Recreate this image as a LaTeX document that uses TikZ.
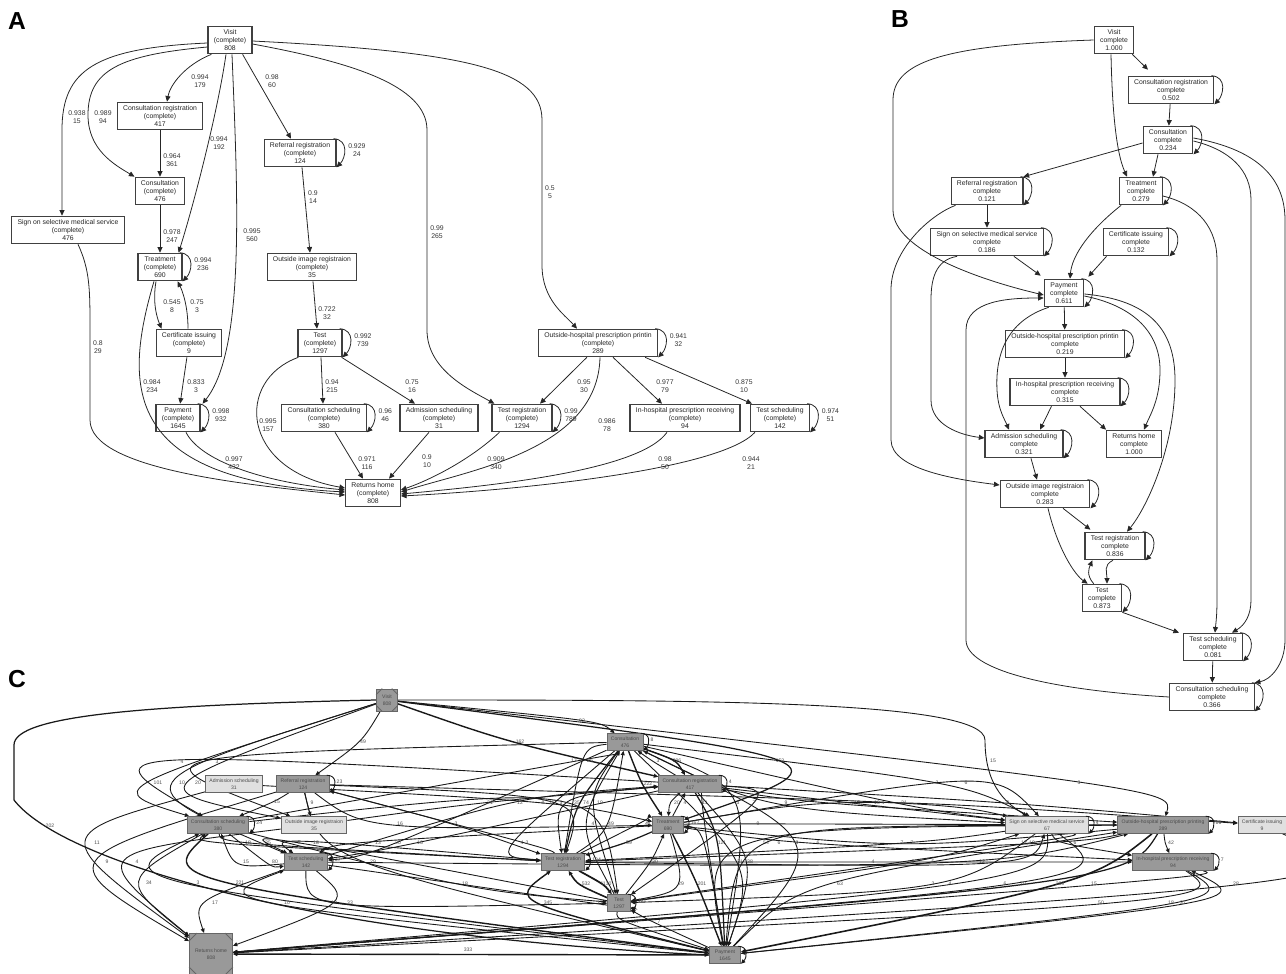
\documentclass[tikz,border=0pt]{standalone}
\usepackage{fontspec}
\setmainfont{Liberation Sans}
\usetikzlibrary{arrows.meta,calc,backgrounds}

\newcommand{\fsA}{\fontsize{3.9}{4.4}\selectfont}
\newcommand{\fsC}{\fontsize{2.9}{3.9}\selectfont}
% loop on the right side of a box
\newcommand{\selfloop}[2]{\draw[edgeA] ($(#1.north east)+(-3,0)$) .. controls +(16,1) and +(9,-9) .. (#1.south east)
  node[labA,anchor=west,midway,xshift=2pt] {#2};}
\newcommand{\selfloopC}[2]{\draw[edgeC] ($(#1.north east)+(-3,0)$) .. controls +(11,0) and +(6,-6) .. (#1.south east)
  node[labC,anchor=west,midway,xshift=1pt] {#2};}
% edge of panel C, bent through a point just left of its label
\newcommand{\cedge}[5][]{\draw[edgeC,#1] (#2) .. controls ($1.3333*(#3)-0.16667*(#2)-0.16667*(#4)+(-7,0)$) .. (#4)
  node[labC] at (#3) {#5};}

\begin{document}
\begin{tikzpicture}[x=0.02cm,y=-0.02cm,
  boxA/.style={draw=black!75, line width=0.7pt, fill=white, align=center, font=\fsA, text=black!85,
    inner xsep=3.3pt, inner ysep=1pt, minimum height=15.6pt},
  edgeA/.style={-{Triangle[length=3.2pt,width=2.9pt]}, line width=0.45pt, black!85},
  labA/.style={font=\fsA, align=center, inner sep=0pt, text=black!80},
  boxC/.style={draw=black!60, line width=0.5pt, align=center, font=\fsC, text=black!70,
    inner xsep=2.2pt, inner ysep=0.5pt, minimum height=9.5pt},
  dark/.style={boxC, fill=black!40},
  pale/.style={boxC, fill=black!12},
  edgeC/.style={-{Triangle[length=2.5pt,width=2.2pt]}, line width=0.5pt, black!90},
  labC/.style={font=\fsC, inner sep=0pt, text=black!70},
  panel/.style={font=\fontsize{14}{14}\selectfont\bfseries}]
\useasboundingbox (0,0) rectangle (1286,974);

\node[panel] (pA) at (17,21) {A};
\node[panel] (pB) at (900,19) {B};
\node[panel] (pC) at (17,679) {C};

% ---------------- panel A ----------------
\node[boxA] (aVisit) at (230,40) {Visit\\(complete)\\808};
\node[boxA] (aCR) at (160,116) {Consultation registration\\(complete)\\417};
\node[boxA] (aRef) at (300,153) {Referral registration\\(complete)\\124};
\node[boxA] (aCons) at (160,191) {Consultation\\(complete)\\476};
\node[boxA] (aSign) at (68,230) {Sign on selective medical service\\(complete)\\476};
\node[boxA] (aTreat) at (160,267) {Treatment\\(complete)\\690};
\node[boxA] (aImg) at (312,267) {Outside image registraion\\(complete)\\35};
\node[boxA] (aCert) at (189,343) {Certificate issuing\\(complete)\\9};
\node[boxA] (aTest) at (320,343) {Test\\(complete)\\1297};
\node[boxA] (aOHP) at (598,343) {Outside-hospital prescription printin\\(complete)\\289};
\node[boxA] (aPay) at (178,418) {Payment\\(complete)\\1645};
\node[boxA] (aCS) at (324,418) {Consultation scheduling\\(complete)\\380};
\node[boxA] (aAdm) at (439,418) {Admission scheduling\\(complete)\\31};
\node[boxA] (aTR) at (522,418) {Test registration\\(complete)\\1294};
\node[boxA] (aIH) at (685,418) {In-hospital prescription receiving\\(complete)\\94};
\node[boxA] (aTS) at (780,418) {Test scheduling\\(complete)\\142};
\node[boxA] (aRet) at (373,493) {Returns home\\(complete)\\808};

\draw[edgeA] ($(aVisit.west)+(0,3)$) .. controls (95,48) and (62,70) .. (62,130) -- ($(aSign.north)+(-6,0)$)
  node[labA] at (77,117) {0.938\\15};
\draw[edgeA] ($(aVisit.west)+(0,7)$) .. controls (120,55) and (88,70) .. (88,115)
  .. controls (88,150) and (115,165) .. (aCons.north west)
  node[labA] at (103,117) {0.989\\94};
\draw[edgeA] ($(aVisit.south west)+(4,0)$) .. controls (185,65) and (170,85) .. ($(aCR.north)+(7,0)$)
  node[labA] at (200,81) {0.994\\179};
\draw[edgeA] ($(aVisit.south)+(-4,0)$) .. controls (218,110) and (195,200) .. ($(aTreat.north east)+(-4,0)$)
  node[labA] at (219,143) {0.994\\192};
\draw[edgeA] ($(aVisit.south)+(2,0)$) .. controls (238,200) and (245,350) .. ($(aPay.north east)+(2,0)$)
  node[labA] at (252,235) {0.995\\560};
\draw[edgeA] ($(aVisit.south east)+(-10,0)$) -- ($(aRef.north)+(-9,0)$)
  node[labA] at (272,81) {0.98\\60};
\draw[edgeA] ($(aVisit.east)+(0,4)$) .. controls (350,62) and (427,85) .. (427,130) -- (427,330)
  .. controls (427,370) and (470,390) .. ($(aTR.north west)+(3,0)$)
  node[labA] at (437,232) {0.99\\265};
\draw[edgeA] ($(aVisit.east)+(0,1)$) .. controls (470,52) and (542,70) .. (542,120) -- (542,265)
  .. controls (542,300) and (565,315) .. ($(aOHP.north)+(-21,0)$)
  node[labA] at (550,192) {0.5\\5};
\draw[edgeA] (aCR) -- (aCons) node[labA] at (172,160) {0.964\\361};
\draw[edgeA] (aCons) -- (aTreat) node[labA] at (172,236) {0.978\\247};
\draw[edgeA] ($(aRef.south)+(2,0)$) -- ($(aImg.north)+(-2,0)$) node[labA] at (313,197) {0.9\\14};
\draw[edgeA] ($(aTreat.south)+(-4,0)$) .. controls (152,305) and (158,320) .. ($(aCert.north west)+(6,0)$)
  node[labA] at (172,306) {0.545\\8};
\draw[edgeA] ($(aCert.north)+(-1,0)$) .. controls (188,305) and (182,290) .. ($(aTreat.south east)+(-5,0)$)
  node[labA] at (197,306) {0.75\\3};
\draw[edgeA] (aCert) -- (aPay) node[labA] at (196,386) {0.833\\3};
\draw[edgeA] ($(aTreat.south)+(-6,0)$) .. controls (122,390) and (125,480) .. ($(aRet.west)+(0,-1)$)
  node[labA] at (152,386) {0.984\\234};
\draw[edgeA] ($(aSign.south)+(10,0)$) .. controls (90,270) and (90,290) .. (90,330) -- (90,420)
  .. controls (90,470) and (250,485) .. ($(aRet.west)+(0,2)$)
  node[labA] at (98,347) {0.8\\29};
\draw[edgeA] ($(aPay.south)+(8,0)$) .. controls (200,460) and (260,482) .. ($(aRet.west)+(0,-3)$)
  node[labA] at (234,463) {0.997\\432};
\draw[edgeA] ($(aImg.south)+(1,0)$) -- ($(aTest.north)+(-3,0)$) node[labA] at (327,313) {0.722\\32};
\draw[edgeA] ($(aTest.south)+(1,0)$) -- ($(aCS.north)+(-1,0)$) node[labA] at (332,386) {0.94\\215};
\draw[edgeA] ($(aTest.south east)+(-1,0)$) -- ($(aAdm.north)+(-24,0)$) node[labA] at (412,386) {0.75\\16};
\draw[edgeA] ($(aTest.south west)+(1,0)$) .. controls (235,380) and (240,470) .. ($(aRet.west)+(0,-5)$)
  node[labA] at (268,425) {0.995\\157};
\draw[edgeA] ($(aCS.south)+(11,0)$) -- ($(aRet.north)+(-10,0)$) node[labA] at (367,463) {0.971\\116};
\draw[edgeA] ($(aAdm.south)+(-10,0)$) -- ($(aRet.north)+(16,0)$) node[labA] at (427,461) {0.9\\10};
\draw[edgeA] ($(aTR.south west)+(8,0)$) .. controls (470,460) and (430,480) .. ($(aRet.east)+(0,-3)$)
  node[labA] at (496,463) {0.909\\340};
\draw[edgeA] ($(aOHP.south west)+(49,0)$) -- ($(aTR.north)+(18,0)$) node[labA] at (584,386) {0.95\\30};
\draw[edgeA] ($(aOHP.south)+(2,0)$) .. controls (598,450) and (470,470) .. ($(aRet.east)+(0,-1)$)
  node[labA] at (607,425) {0.986\\78};
\draw[edgeA] ($(aOHP.south)+(15,0)$) -- ($(aIH.north)+(-23,0)$) node[labA] at (665,386) {0.977\\79};
\draw[edgeA] ($(aOHP.south east)+(-13,0)$) -- ($(aTS.north)+(-28,0)$) node[labA] at (744,386) {0.875\\10};
\draw[edgeA] ($(aIH.south)+(-18,0)$) .. controls (640,470) and (500,485) .. ($(aRet.east)+(0,1)$)
  node[labA] at (665,463) {0.98\\50};
\draw[edgeA] ($(aTS.south west)+(5,0)$) .. controls (720,470) and (520,490) .. ($(aRet.east)+(0,3)$)
  node[labA] at (751,463) {0.944\\21};
\selfloop{aRef}{0.929\\24}
\selfloop{aTreat}{0.994\\236}
\selfloop{aTest}{0.992\\739}
\selfloop{aPay}{0.998\\932}
\selfloop{aCS}{0.96\\46}
\selfloop{aTR}{0.99\\789}
\selfloop{aOHP}{0.941\\32}
\selfloop{aTS}{0.974\\51}

% ---------------- panel B ----------------
\node[boxA] (bVisit) at (1114,40) {Visit\\complete\\1.000};
\node[boxA] (bCR) at (1171,90) {Consultation registration\\complete\\0.502};
\node[boxA] (bCons) at (1168,140) {Consultation\\complete\\0.234};
\node[boxA] (bRef) at (987,191) {Referral registration\\complete\\0.121};
\node[boxA] (bTreat) at (1141,191) {Treatment\\complete\\0.279};
\node[boxA] (bSign) at (987,242) {Sign on selective medical service\\complete\\0.186};
\node[boxA] (bCert) at (1136,242) {Certificate issuing\\complete\\0.132};
\node[boxA] (bPay) at (1064,293) {Payment\\complete\\0.611};
\node[boxA] (bOHP) at (1065,344) {Outside-hospital prescription printin\\complete\\0.219};
\node[boxA] (bIH) at (1065,392) {In-hospital prescription receiving\\complete\\0.315};
\node[boxA] (bAdm) at (1024,444) {Admission scheduling\\complete\\0.321};
\node[boxA] (bRet) at (1134,444) {Returns home\\complete\\1.000};
\node[boxA] (bImg) at (1045,494) {Outside image registraion\\complete\\0.283};
\node[boxA] (bTR) at (1115,546) {Test registration\\complete\\0.836};
\node[boxA] (bTest) at (1102,598) {Test\\complete\\0.873};
\node[boxA] (bTS) at (1213,647) {Test scheduling\\complete\\0.081};
\node[boxA] (bCSch) at (1212,697) {Consultation scheduling\\complete\\0.366};

\draw[edgeA] ($(bVisit.south east)+(-2,0)$) -- ($(bCR.north)+(-23,-6)$);
\draw[edgeA] ($(bVisit.south)+(-3,0)$) .. controls (1112,100) and (1115,150) .. ($(bTreat.north)+(-14,0)$);
\draw[edgeA] (bVisit.west) .. controls (950,45) and (893,60) .. (893,100) -- (893,210)
  .. controls (893,250) and (980,280) .. ($(bPay.west)+(0,2)$);
\draw[edgeA] (bCR) -- (bCons);
\draw[edgeA] ($(bCons.west)+(0,3)$) -- (bRef.north east);
\draw[edgeA] ($(bCons.south)+(-10,0)$) -- ($(bTreat.north)+(12,0)$);
\draw[edgeA] ($(bCons.east)+(0,1)$) .. controls (1230,150) and (1251,170) .. (1251,200) -- (1251,600)
  .. controls (1251,615) and (1245,625) .. ($(bTS.north)+(19,0)$);
\draw[edgeA] ($(bCons.east)+(0,-2)$) .. controls (1260,150) and (1285,180) .. (1285,220) -- (1285,640)
  .. controls (1285,665) and (1270,680) .. (bCSch.north east);
\draw[edgeA] ($(bTreat.east)+(0,5)$) .. controls (1200,205) and (1217,230) .. (1217,260) -- (1217,600)
  .. controls (1217,615) and (1216,622) .. ($(bTS.north)+(2,0)$);
\draw[edgeA] ($(bTreat.south west)+(2,0)$) .. controls (1090,230) and (1072,255) .. ($(bPay.north)+(6,0)$);
\draw[edgeA] (bRef) -- (bSign);
\draw[edgeA] ($(bRef.south west)+(5,0)$) .. controls (930,215) and (891,250) .. (891,290) -- (891,440)
  .. controls (891,470) and (960,480) .. ($(bImg.west)+(0,-9)$);
\draw[edgeA] ($(bSign.south east)+(-30,0)$) -- ($(bPay.north west)+(-3,-3)$);
\draw[edgeA] ($(bSign.south west)+(27,0)$) .. controls (935,260) and (931,280) .. (931,300) -- (931,400)
  .. controls (931,425) and (960,435) .. ($(bAdm.west)+(0,-6)$);
\draw[edgeA] ($(bCert.south west)+(4,0)$) -- ($(bPay.north east)+(4,-2)$);
\draw[edgeA] (bPay) -- (bOHP);
\draw[edgeA] ($(bPay.south west)+(5,0)$) .. controls (1010,320) and (995,350) .. (997,390)
  .. controls (998,410) and (1005,420) .. ($(bAdm.north)+(-15,0)$);
\draw[edgeA] ($(bPay.east)+(0,3)$) .. controls (1130,305) and (1160,330) .. (1160,370)
  .. controls (1160,400) and (1150,415) .. ($(bRet.north)+(10,0)$);
\draw[edgeA] ($(bPay.east)+(0,1)$) .. controls (1150,300) and (1175,330) .. (1175,380)
  .. controls (1175,450) and (1145,510) .. ($(bTR.north)+(12,0)$);
\draw[edgeA] (bCSch.west) .. controls (1050,690) and (966,670) .. (966,640) -- (966,330)
  .. controls (966,300) and (1010,298) .. ($(bPay.west)+(0,5)$);
\draw[edgeA] (bOHP) -- (bIH);
\draw[edgeA] ($(bIH.south west)+(42,0)$) -- ($(bAdm.north)+(16,0)$);
\draw[edgeA] ($(bIH.south)+(15,0)$) -- (bRet.north west);
\draw[edgeA] ($(bAdm.south)+(7,0)$) -- ($(bImg.north)+(-8,0)$);
\draw[edgeA] ($(bImg.south)+(18,0)$) -- ($(bTR.north west)+(6,-2)$);
\draw[edgeA] ($(bImg.south)+(3,0)$) .. controls (1058,550) and (1075,575) .. ($(bTest.north west)+(6,0)$);
\draw[edgeA] ($(bTest.north west)+(12,0)$) .. controls (1086,575) and (1089,568) .. ($(bTR.south west)+(8,0)$);
\draw[edgeA] ($(bTR.south)+(-2,0)$) .. controls (1103,565) and (1107,572) .. ($(bTest.north)+(5,0)$);
\draw[edgeA] (bTest.south east) -- ($(bTS.north west)+(-4,0)$);
\draw[edgeA] (bTS) -- (bCSch);
\foreach \n in {bCR,bCons,bRef,bTreat,bSign,bCert,bPay,bOHP,bIH,bAdm,bImg,bTR,bTest,bTS,bCSch}
  {\selfloop{\n}{}}

% ---------------- panel C ----------------
\node[dark, minimum width=0.42cm, minimum height=0.44cm] (cVisit) at (387,700) {Visit\\808};
\node[pale] (cAdm) at (234,784) {Admission scheduling\\31};
\node[dark] (cRef) at (303,784) {Referral registration\\124};
\node[dark] (cCS) at (218,825) {Consultation scheduling\\380};
\node[pale] (cImg) at (314,825) {Outside image registraion\\35};
\node[dark] (cTS) at (306,862) {Test scheduling\\142};
\node[dark, minimum width=0.86cm, minimum height=0.82cm] (cRet) at (211,954) {Returns home\\808};
\node[dark] (cCons) at (625,742) {Consultation\\476};
\node[dark] (cCR) at (690,784) {Consultation registration\\417};
\node[dark] (cTreat) at (668,825) {Treatment\\690};
\node[dark] (cTR) at (563,862) {Test registration\\1294};
\node[dark, minimum width=0.46cm] (cTest) at (619,903) {Test\\1297};
\node[dark, minimum width=0.62cm] (cPay) at (725,955) {Payment\\1645};
\node[pale] (cSign) at (1047,825) {Sign on selective medical service\\67};
\node[dark] (cOHP) at (1163,825) {Outside-hospital prescription printing\\289};
\node[pale] (cCert) at (1262,825) {Certificate issuing\\9};
\node[dark] (cIH) at (1173,862) {In-hospital prescription receiving\\94};
\foreach \n/\d in {cVisit/3.5pt,cRet/4.5pt}{
  \draw[black!60, line width=0.5pt] ([yshift=-\d]\n.north west) -- ([xshift=\d]\n.north west)
    ([xshift=-\d]\n.north east) -- ([yshift=-\d]\n.north east)
    ([yshift=\d]\n.south west) -- ([xshift=\d]\n.south west)
    ([xshift=-\d]\n.south east) -- ([yshift=\d]\n.south east);
}

\begin{pgfonlayer}{background}
\draw[edgeC, line width=0.7pt] (cVisit.west) .. controls (150,705) and (14,715) .. (14,745) -- (14,800)
  .. controls (60,860) and (300,935) .. (cPay.west) node[labC] at (50,826) {202};
\draw[edgeC] (cVisit.east) .. controls (700,700) and (985,700) .. (985,740)
  .. controls (985,790) and (1010,805) .. ($(cSign.north)+(-20,0)$) node[labC] at (993,761) {15};
\draw[edgeC, line width=0.8pt] (cPay) -- (cRet) node[labC] at (468,950) {333};
\cedge{cVisit}{363,742}{cRef}{49}
\cedge{cVisit}{158,783}{cCS}{101}
\cedge{cVisit}{182,783}{cTS}{10}
\cedge{cVisit}{198,783}{cImg}{20}
\cedge{cCR}{182,762}{cCS}{4}
\cedge{cCons}{217,762}{cImg}{3}
\cedge{cRef}{277,802}{cCS}{15}
\cedge{cRef}{312,803}{cImg}{9}
\cedge{cAdm}{97,843}{cRet}{11}
\cedge{cRef}{107,862}{cRet}{9}
\cedge{cImg}{137,862}{cRet}{4}
\cedge{cCS}{149,883}{cRet}{34}
\cedge{cPay}{198,883}{cCS}{3}
\cedge[line width=0.8pt]{cCS}{240,883}{cPay}{221}
\cedge{cTS}{215,903}{cRet}{17}
\cedge{cPay}{287,903}{cTS}{10}
\cedge{cTS}{334,903}{cRet}{10}
\cedge{cTS}{350,903}{cTest}{33}
\cedge{cTS}{246,862}{cCS}{15}
\cedge{cCS}{275,862}{cTS}{80}
\cedge{cTR}{248,843}{cCS}{18}
\cedge{cCS}{268,843}{cTR}{35}
\cedge{cTest}{299,843}{cTS}{5}
\cedge{cTR}{316,843}{cTS}{18}
\cedge{cRef}{373,862}{cPay}{29}
\cedge{cRef}{400,824}{cTreat}{16}
\cedge{cTreat}{378,843}{cTS}{13}
\cedge{cCons}{398,843}{cTS}{20}
\cedge{cCR}{420,843}{cTS}{16}
\cedge{cVisit}{582,721}{cCons}{92}
\cedge[line width=0.8pt]{cVisit}{520,742}{cCR}{162}
\cedge{cCS}{574,761}{cCons}{17}
\cedge{cCons}{590,761}{cTR}{26}
\cedge{cCR}{658,761}{cCons}{3}
\cedge[line width=0.8pt]{cCons}{677,761}{cCR}{296}
\cedge[line width=0.7pt]{cVisit}{780,761}{cTreat}{153}
\cedge[line width=0.8pt]{cCons}{648,784}{cTreat}{222}
\cedge{cImg}{490,803}{cCR}{21}
\cedge{cTS}{520,803}{cCR}{12}
\cedge{cAdm}{543,803}{cTreat}{8}
\cedge{cRef}{552,803}{cTR}{15}
\cedge{cCS}{561,803}{cTest}{3}
\cedge{cCR}{577,803}{cTR}{35}
\cedge[line width=0.7pt]{cCons}{586,803}{cTR}{74}
\cedge{cCons}{600,803}{cTest}{19}
\cedge{cCR}{677,803}{cTreat}{20}
\cedge{cTreat}{685,803}{cCR}{4}
\cedge{cCR}{705,803}{cPay}{11}
\cedge{cCons}{738,803}{cPay}{3}
\cedge{cCR}{754,803}{cTest}{7}
\cedge{cCons}{786,803}{cSign}{9}
\cedge{cCR}{839,803}{cOHP}{9}
\cedge{cRef}{456,824}{cTR}{3}
\cedge{cTest}{593,824}{cCons}{4}
\cedge{cTR}{611,824}{cCons}{49}
\cedge{cTR}{648,824}{cTreat}{41}
\cedge{cTreat}{758,824}{cOHP}{9}
\cedge{cCons}{522,843}{cTR}{4}
\cedge{cTR}{527,843}{cRef}{3}
\cedge[line width=0.7pt]{cTreat}{629,843}{cTR}{59}
\cedge{cTreat}{707,843}{cPay}{4}
\cedge[line width=0.7pt]{cCR}{722,843}{cPay}{121}
\cedge{cOHP}{766,843}{cPay}{54}
\cedge{cSign}{779,843}{cPay}{6}
\cedge{cPay}{797,843}{cCons}{3}
\cedge{cTreat}{818,843}{cIH}{6}
\cedge{cTest}{655,862}{cTreat}{30}
\cedge{cCons}{740,862}{cPay}{31}
\cedge{cCR}{750,862}{cPay}{38}
\cedge{cCS}{465,884}{cTest}{18}
\cedge[line width=0.9pt]{cTest}{586,884}{cTR}{532}
\cedge[line width=1pt]{cTR}{606,884}{cTest}{1130}
\cedge{cTreat}{681,884}{cTest}{29}
\cedge[line width=0.8pt]{cTreat}{702,884}{cPay}{201}
\cedge{cPay}{840,884}{cOHP}{63}
\cedge[line width=0.8pt]{cPay}{548,903}{cTR}{345}
\cedge{cTS}{600,903}{cTest}{17}
\cedge{cTest}{635,922}{cPay}{127}
\cedge{cPay}{659,922}{cTest}{7}
\cedge{cCons}{937,783}{cSign}{3}
\cedge{cTreat}{966,783}{cSign}{6}
\cedge{cVisit}{1079,783}{cOHP}{3}
\cedge{cCR}{857,803}{cSign}{16}
\cedge{cTreat}{877,803}{cCert}{10}
\cedge{cRef}{883,803}{cSign}{4}
\cedge{cCons}{904,803}{cSign}{21}
\cedge{cCR}{1008,803}{cCert}{9}
\cedge{cSign}{902,843}{cTR}{7}
\cedge{cOHP}{912,843}{cTreat}{7}
\cedge{cSign}{1024,843}{cTest}{12}
\cedge{cOHP}{1032,843}{cTR}{19}
\cedge{cSign}{1075,843}{cIH}{6}
\cedge{cOHP}{1171,843}{cIH}{42}
\cedge{cTR}{873,862}{cIH}{4}
\cedge{cTest}{913,862}{cSign}{3}
\cedge{cTS}{933,862}{cOHP}{5}
\cedge{cTR}{982,862}{cSign}{12}
\cedge{cSign}{933,884}{cTest}{3}
\cedge{cSign}{950,884}{cRet}{4}
\cedge{cSign}{1005,884}{cRet}{6}
\cedge[line width=0.7pt]{cOHP}{1023,884}{cRet}{70}
\cedge[line width=0.9pt]{cOHP}{1060,884}{cPay}{269}
\cedge{cIH}{1094,884}{cRet}{15}
\cedge{cCert}{1236,884}{cRet}{28}
\cedge{cIH}{1101,903}{cRet}{50}
\cedge{cIH}{1171,903}{cPay}{18}
\cedge{cPay}{1183,903}{cIH}{37}
\end{pgfonlayer}
\selfloopC{cCS}{24}
\selfloopC{cTS}{37}
\selfloopC{cRef}{23}
\selfloopC{cCR}{4}
\selfloopC{cCons}{8}
\selfloopC{cTreat}{167}
\selfloopC{cTR}{104}
\selfloopC{cTest}{121}
\selfloopC{cPay}{}
\selfloopC{cSign}{4}
\selfloopC{cOHP}{16}
\selfloopC{cIH}{7}
\end{tikzpicture}
\end{document}
